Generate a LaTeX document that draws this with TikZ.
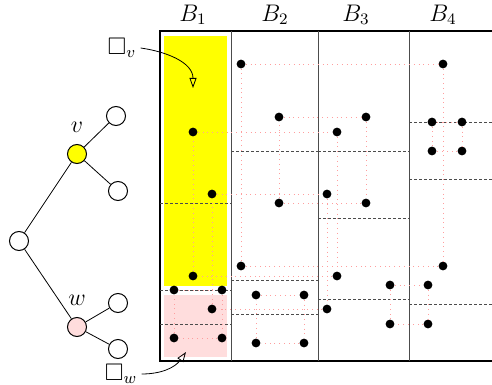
\documentclass[tikz,border=0pt]{standalone}
\usepackage{amssymb}
\usepackage{tikz}
\usetikzlibrary{arrows.meta, positioning}
\definecolor{boxyellow}{HTML}{FFFF00}
\definecolor{boxpink}{HTML}{FFDDDD}
\definecolor{linkpink}{HTML}{FF9E9E}

\begin{document}
\begin{tikzpicture}[
    x=0.5pt, y=-0.5pt,
    font=\large,
    tnode/.style={circle, draw, line width=0.5pt, minimum size=9.5pt, inner sep=0pt},
    pt/.style={circle, fill=black, inner sep=0pt, minimum size=4.4pt},
    link/.style={dotted, draw=linkpink, line width=0.4pt},
    split/.style={dash pattern=on 1.5pt off 1pt, draw=black!70, line width=0.45pt},
    frame/.style={line width=1.1pt},
    sep/.style={line width=0.5pt, draw=black!70},
    tip/.style={-{Triangle[open, length=5pt, width=3.5pt]}, line width=0.4pt}
  ]
  \useasboundingbox (0,0) rectangle (492,385);

  % boxes of v and w
  \fill[boxyellow] (164,36) rectangle (227,286);
  \fill[boxpink] (164,295) rectangle (227,357);

  % blocks
  \draw[frame] (492,31) -- (160,31) -- (160,361) -- (492,361);
  \foreach \x in {231,318,409} \draw[sep] (\x,31) -- (\x,361);
  \foreach \x/\i in {193/1,275/2,356/3,443/4} \node (B\i) at (\x,15) {$B_\i$};

  % splits inside the blocks
  \foreach \xa/\xb/\y in {160/231/203, 160/231/290, 160/231/324,
                          231/318/151, 231/318/280, 231/318/314,
                          318/409/151, 318/409/218, 318/409/299,
                          409/492/122, 409/492/179, 409/492/304}
    \draw[split] (\xa,\y) -- (\xb,\y);

  % points, four corners per rectangle
  \foreach \n/\xa/\ya/\xb/\yb in {a/241/64/443/266, b/193/132/337/276,
                                  c/279/117/366/203, d/212/194/327/309,
                                  e/174/290/222/338, f/256/295/304/343,
                                  g/390/285/428/324, h/432/122/462/151} {
    \node[pt] (\n1) at (\xa,\ya) {};
    \node[pt] (\n2) at (\xb,\ya) {};
    \node[pt] (\n3) at (\xa,\yb) {};
    \node[pt] (\n4) at (\xb,\yb) {};
    \draw[link] (\n1) -- (\n2);
    \draw[link] (\n2) -- (\n4);
    \draw[link] (\n4) -- (\n3);
    \draw[link] (\n3) -- (\n1);
  }

  % tree
  \node[tnode] (root) at (19,241) {};
  \node[tnode, fill=boxyellow] (v) at (77,154) {};
  \node[tnode, fill=boxpink] (w) at (77,327) {};
  \node[tnode] (v1) at (116,116) {};
  \node[tnode] (v2) at (118,191) {};
  \node[tnode] (w1) at (118,303) {};
  \node[tnode] (w2) at (118,349) {};
  \node[above=2pt of v] (vname) {$v$};
  \node[above=2pt of w] (wname) {$w$};
  \draw (root) -- (v);
  \draw (root) -- (w);
  \draw (v) -- (v1);
  \draw (v) -- (v2);
  \draw (w) -- (w1);
  \draw (w) -- (w2);

  % box labels
  \node[inner sep=2pt] (sqv) at (122,48) {$\square_v$};
  \node[inner sep=2pt] (sqw) at (121,374) {$\square_w$};
  \coordinate (tipv) at (193,88);
  \coordinate (tipw) at (186,352);
  \draw[tip] (sqv.east) to[out=-8, in=90] (tipv);
  \draw[tip] (sqw.east) to[out=0, in=-125] (tipw);
\end{tikzpicture}
\end{document}
